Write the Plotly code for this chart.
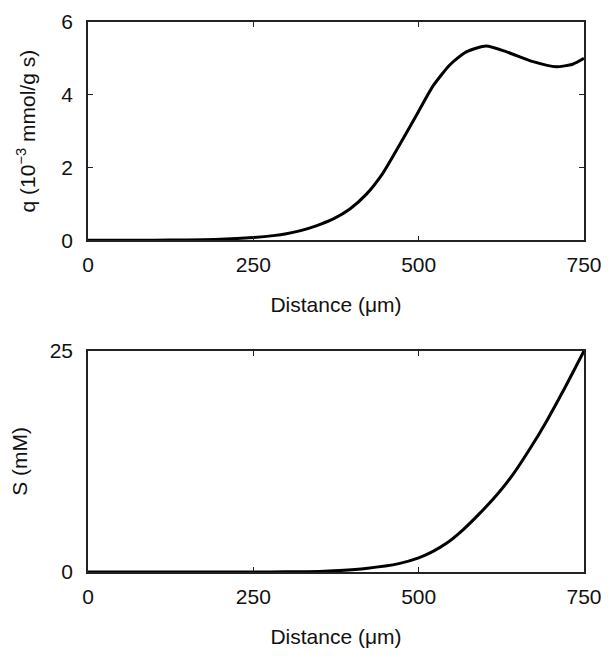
import plotly.graph_objects as go
from plotly.subplots import make_subplots

# Top panel: q (10^-3 mmol/g s) vs distance (um)
q_distance = [0, 100, 150, 200, 250, 280, 300, 320, 345, 371, 396, 421, 446, 471, 500,
              522, 547, 572, 602, 633, 673, 708, 733, 750]
q_values = [0.0, 0.004, 0.012, 0.03, 0.08, 0.13, 0.18, 0.26, 0.40, 0.59, 0.86, 1.27, 1.85,
            2.62, 3.55, 4.25, 4.82, 5.18, 5.34, 5.18, 4.91, 4.77, 4.84, 5.0]

# Bottom panel: S (mM) vs distance (um)
s_distance = [0, 150, 250, 300, 350, 380, 420, 470, 500, 521, 542, 567, 592, 618, 643,
              668, 693, 718, 750]
s_values = [0.0, 0.0, 0.0, 0.02, 0.05, 0.16, 0.4, 0.95, 1.6, 2.3, 3.24, 4.77, 6.6, 8.7,
            11.07, 13.9, 17.0, 20.4, 25.0]

x_ticks = [0, 250, 500, 750]
q_ticks = [0, 2, 4, 6]
s_ticks = [0, 25]

fig = make_subplots(rows=2, cols=1, vertical_spacing=0.2)

line_style = dict(color="black", width=3, shape="spline", smoothing=0.6)
fig.add_trace(go.Scatter(x=q_distance, y=q_values, mode="lines", line=line_style,
                         showlegend=False), row=1, col=1)
fig.add_trace(go.Scatter(x=s_distance, y=s_values, mode="lines", line=line_style,
                         showlegend=False), row=2, col=1)

font = dict(family="Liberation Sans, Arial, sans-serif", size=21, color="#111")
axis_common = dict(showline=True, linecolor="#222", linewidth=1.5, mirror="ticks",
                   ticks="inside", ticklen=5, tickwidth=1, tickcolor="#222",
                   showgrid=False, zeroline=False, tickfont=font, automargin=False,
                   ticklabeloverflow="allow")

fig.update_layout(
    width=614, height=659,
    margin=dict(l=80, r=38, t=14, b=95),
    paper_bgcolor="white", plot_bgcolor="white",
    font=font,
    xaxis=dict(domain=[0, 1], range=[0, 750], tickvals=x_ticks,
               title=dict(text="Distance (\u03bcm)", font=font, standoff=22),
               ticklabelstandoff=5, **axis_common),
    yaxis=dict(domain=[0.603, 1.0], range=[0, 6], tickvals=q_ticks,
               title=dict(text="q (10<sup>\u22123</sup> mmol/g s)", font=font, standoff=20),
               ticklabelstandoff=9, **axis_common),
    xaxis2=dict(domain=[0, 1], range=[0, 750], tickvals=x_ticks,
                title=dict(text="Distance (\u03bcm)", font=font, standoff=22),
                ticklabelstandoff=5, **axis_common),
    yaxis2=dict(domain=[0, 0.402], range=[0, 25], tickvals=s_ticks,
                title=dict(text="S (mM)", font=font, standoff=20),
                ticklabelstandoff=9, **axis_common),
)

fig.write_html("out.html")
